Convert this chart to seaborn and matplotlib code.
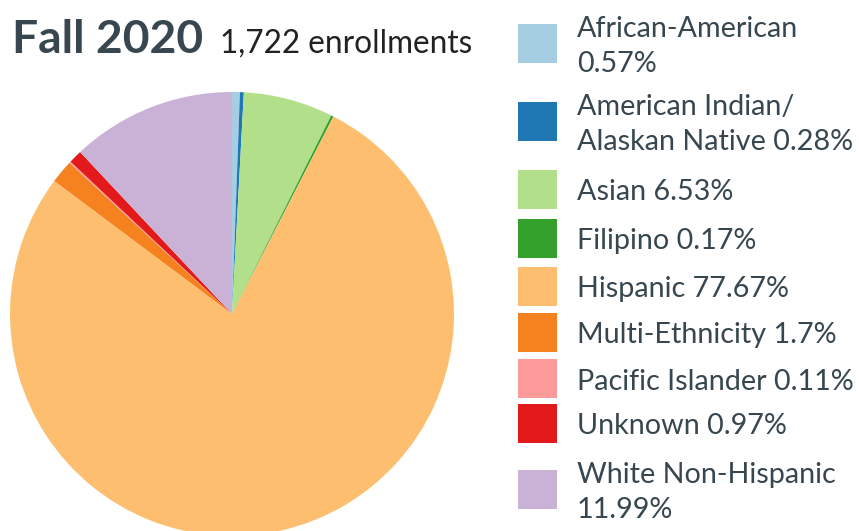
import matplotlib
matplotlib.use("Agg")
import matplotlib.pyplot as plt
from matplotlib.patches import Rectangle
import seaborn as sns

# ---- data ----
categories = ["African-American", "American Indian/\nAlaskan Native", "Asian", "Filipino",
              "Hispanic", "Multi-Ethnicity", "Pacific Islander", "Unknown", "White Non-Hispanic"]
percentages = [0.57, 0.28, 6.53, 0.17, 77.67, 1.7, 0.11, 0.97, 11.99]
label_sep = ["\n", " ", " ", " ", " ", " ", " ", " ", "\n"]
title_main = "Fall 2020"
title_sub = "1,722 enrollments"

sns.set_theme(style="white")
plt.rcParams['font.family'] = ['Lato', 'DejaVu Sans']

paired = sns.color_palette("Paired", 12)
# reorder Paired palette to match categories
colors = [paired[0], paired[1], paired[2], paired[3], paired[6], "#f5821f",
          paired[4], paired[5], paired[8]]

W, H = 859, 531
fig = plt.figure(figsize=(W / 100, H / 100), dpi=100)
fig.patch.set_facecolor("white")

# pie axes, in pixel geometry
cx, cy, r = 232, 314, 222
ax = fig.add_axes([(cx - r) / W, (H - (cy + r)) / H, 2 * r / W, 2 * r / H])
ax.pie(percentages, colors=colors, startangle=90, counterclock=False, radius=1,
       wedgeprops=dict(linewidth=0, antialiased=True))
ax.set_xlim(-1, 1)
ax.set_ylim(-1, 1)
ax.set_aspect("equal")
ax.axis("off")

# overlay for title and legend in pixel coords
ov = fig.add_axes([0, 0, 1, 1], zorder=5)
ov.set_xlim(0, W)
ov.set_ylim(H, 0)
ov.axis("off")
ov.patch.set_alpha(0)

text_col = "#37464f"
ov.text(12, 53, title_main, fontsize=33.3, fontweight="bold", color=text_col,
        va="baseline", ha="left")
ov.text(220, 53, title_sub, fontsize=22.7, color="#222222", va="baseline", ha="left")

centers = [43.5, 121.5, 189.5, 238.5, 286.5, 332.5, 378.5, 423.5, 489.5]
for name, pct, sep, col, yc in zip(categories, percentages, label_sep, colors, centers):
    ov.add_patch(Rectangle((518, yc - 19.5), 39, 39, facecolor=col, edgecolor="none"))
    ov.text(577, yc + 3, f"{name}{sep}{pct:g}%", fontsize=20.7, color=text_col,
            va="center", ha="left", linespacing=1.45)

fig.savefig("out.png", dpi=100, facecolor="white")
